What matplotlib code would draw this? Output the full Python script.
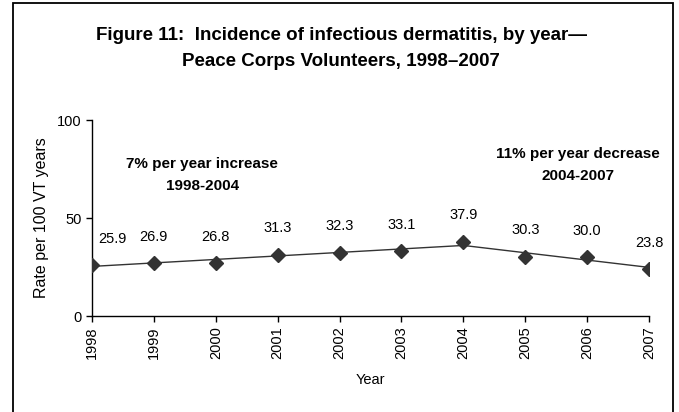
import matplotlib
matplotlib.use('Agg')
import matplotlib.pyplot as plt
from matplotlib.patches import Rectangle

plt.rcParams['font.family'] = ['Liberation Sans', 'DejaVu Sans']

years = [1998, 1999, 2000, 2001, 2002, 2003, 2004, 2005, 2006, 2007]
rates = [25.9, 26.9, 26.8, 31.3, 32.3, 33.1, 37.9, 30.3, 30.0, 23.8]
rate_labels = ['25.9', '26.9', '26.8', '31.3', '32.3', '33.1', '37.9', '30.3', '30.0', '23.8']

# trend line (1998-2004 increase, 2004-2007 decrease)
trend_years = [1998, 2004, 2007]
trend_vals = [25.3, 36.0, 24.8]

fig = plt.figure(figsize=(6.79, 4.12), dpi=100)
ax = fig.add_axes([92 / 679, 1 - 316 / 412, (649 - 92) / 679, (316 - 120) / 412])

ax.plot(trend_years, trend_vals, color='#333333', lw=1.0, zorder=2)
ax.plot(years, rates, ls='none', marker='D', ms=6.8, color='#333333', zorder=3)

for i, (x, y) in enumerate(zip(years, rates)):
    dx = 15 if i == 0 else 0
    ax.annotate(rate_labels[i], (x, y), xytext=(dx, 19), textcoords='offset points',
                ha='center', va='center', fontsize=10.5)

ax.set_xlim(1998, 2007)
ax.set_ylim(0, 100)
ax.set_yticks([0, 50, 100])
ax.set_xticks(years)
ax.set_xticklabels([str(y) for y in years], rotation=90, fontsize=10.5)
ax.tick_params(axis='y', labelsize=10.5, length=4, width=1)
ax.tick_params(axis='x', length=4, width=1)
for s in ['top', 'right']:
    ax.spines[s].set_visible(False)
for s in ['left', 'bottom']:
    ax.spines[s].set_linewidth(1.0)

ax.set_xlabel('Year', fontsize=10.5, labelpad=10)
ax.set_ylabel('Rate per 100 VT years', fontsize=11.5, labelpad=6)

ax.text(202 / 679, 1 - 164 / 412, '7% per year increase', transform=fig.transFigure,
        ha='center', va='center', fontsize=11, fontweight='bold')
ax.text(203 / 679, 1 - 186 / 412, '1998-2004', transform=fig.transFigure,
        ha='center', va='center', fontsize=11, fontweight='bold')
ax.text(578 / 679, 1 - 154 / 412, '11% per year decrease', transform=fig.transFigure,
        ha='center', va='center', fontsize=11, fontweight='bold')
ax.text(578 / 679, 1 - 176 / 412, '2004-2007', transform=fig.transFigure,
        ha='center', va='center', fontsize=11, fontweight='bold')

fig.text(341 / 679, 1 - 35 / 412, 'Figure 11:  Incidence of infectious dermatitis, by year\u2014',
         ha='center', va='center', fontsize=13.5, fontweight='bold')
fig.text(341 / 679, 1 - 62 / 412, 'Peace Corps Volunteers, 1998\u20132007',
         ha='center', va='center', fontsize=13.5, fontweight='bold')

fig.patches.append(Rectangle((13 / 679, -0.05), 660 / 679, 1.05 - 3 / 412,
                             transform=fig.transFigure, fill=False,
                             edgecolor='black', lw=1.3))

fig.savefig('out.png', dpi=100)
